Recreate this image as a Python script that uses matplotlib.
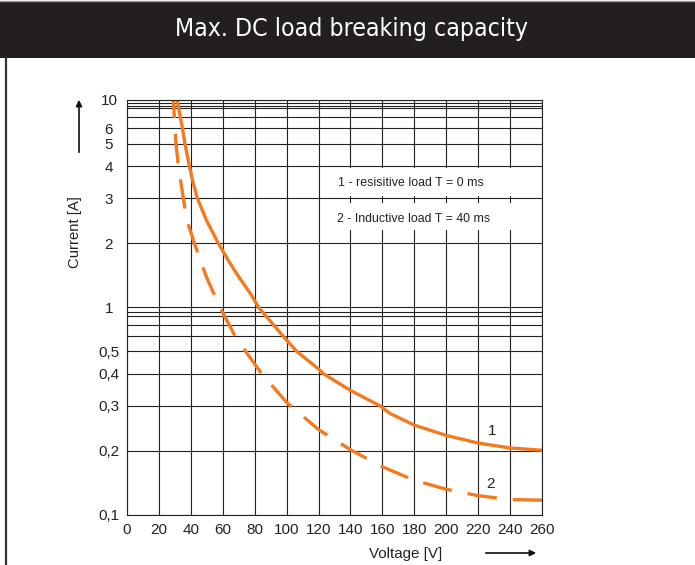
import numpy as np
import matplotlib
matplotlib.use("Agg")
import matplotlib.pyplot as plt
from matplotlib.patches import Rectangle
from matplotlib.lines import Line2D
from matplotlib import font_manager

plt.rcParams['font.family'] = ['Liberation Sans', 'DejaVu Sans']

# --- data ---
volt_ticks = [0, 20, 40, 60, 80, 100, 120, 140, 160, 180, 200, 220, 240, 260]
curr_ticks = [0.1, 0.2, 0.3, 0.4, 0.5, 1, 2, 3, 4, 5, 6, 10]
curr_labels = ["0,1", "0,2", "0,3", "0,4", "0,5", "1", "2", "3", "4", "5", "6", "10"]
curr_minor = [0.6, 0.7, 0.8, 0.9, 7, 8, 8.6, 9.4]

# curve 1 - resistive load
res_v = [31.5, 32.6, 34.7, 36.3, 39.1, 41.1, 44.1, 49.9, 57.2, 63.5, 70.2, 77.5, 82.5,
         97.5, 100, 106.3, 120, 123, 140, 158.5, 164.8, 180, 200, 220, 240, 260]
res_i = [10, 7.76, 6, 5, 4, 3.55, 3, 2.5, 2, 1.73, 1.47, 1.21, 1,
         0.6, 0.57, 0.5, 0.421, 0.4, 0.348, 0.3, 0.283, 0.257, 0.234, 0.217, 0.206, 0.201]
# curve 2 - inductive load
ind_v = [29.0, 30.1, 30.7, 32.2, 35.3, 37.6, 42.2, 49.8, 58.3, 67.5, 74.3, 80, 84.4,
         100, 102.5, 120, 140, 160, 180, 200, 220, 240, 260]
ind_i = [10, 6, 5, 4, 3, 2.5, 2, 1.47, 1, 0.6, 0.5, 0.443, 0.4,
         0.311, 0.3, 0.247, 0.202, 0.175, 0.154, 0.140, 0.130, 0.124, 0.123]

# the printed chart uses a distorted log grid; mantissa -> fraction of a decade
M_KNOTS = [1, 2, 3, 4, 5, 6, 7, 8, 9, 10]
G_KNOTS = [0, 0.31, 0.526, 0.681, 0.789, 0.865, 0.918, 0.96, 0.979, 1.0]


def fwd(v):
    v = np.asarray(v, dtype=float)
    v = np.where(v > 0, v, 1e-3)
    d = np.floor(np.log10(v) + 1e-12)
    m = v / 10.0 ** d
    return d + np.interp(m, M_KNOTS, G_KNOTS)


def inv(y):
    y = np.asarray(y, dtype=float)
    d = np.floor(y + 1e-12)
    m = np.interp(y - d, G_KNOTS, M_KNOTS)
    return m * 10.0 ** d


ORANGE = "#f47a20"
GRID = "#222222"
TXT = "#222222"

fig = plt.figure(figsize=(6.95, 5.65), dpi=100)
ax = fig.add_axes([127 / 695, 1 - 515 / 565, 415 / 695, 415 / 565])
ax.set_yscale("function", functions=(fwd, inv))
ax.set_xlim(0, 260)
ax.set_ylim(0.1, 10)

# grid
for v in volt_ticks:
    ax.axvline(v, color=GRID, lw=0.8, zorder=1)
for c in curr_ticks + curr_minor:
    ax.axhline(c, color=GRID, lw=0.8, zorder=1.2)

# white label boxes interrupting the vertical grid
for y0, y1 in [(0.769, 0.836), (0.687, 0.752)]:
    ax.add_patch(Rectangle((0.47, y0), 0.501, y1 - y0, transform=ax.transAxes,
                           facecolor="white", edgecolor="none", zorder=1.1))
ax.text(0.508, 0.799, "1 - resisitive load T = 0 ms", transform=ax.transAxes,
        fontsize=8.9, ha="left", va="center", color=TXT, zorder=3)
ax.text(0.505, 0.7125, "2 - Inductive load T = 40 ms", transform=ax.transAxes,
        fontsize=8.9, ha="left", va="center", color=TXT, zorder=3)

# curves
ax.plot(res_v, res_i, color=ORANGE, lw=2.4, solid_capstyle="butt",
        solid_joinstyle="round", zorder=2)
ln, = ax.plot(ind_v, ind_i, color=ORANGE, lw=2.4, zorder=2, dash_capstyle="butt")
ln.set_linestyle((3.5, (8.9, 4.8)))
ax.text(228.5, 0.243, "1", fontsize=11, ha="center", va="center", color=TXT)
ax.text(228.0, 0.148, "2", fontsize=11, ha="center", va="center", color=TXT)

# ticks
ax.set_xticks(volt_ticks)
ax.set_xticklabels([str(v) for v in volt_ticks], fontsize=11, color=TXT)
ax.set_yticks(curr_ticks)
ax.set_yticklabels(curr_labels, fontsize=11, color=TXT)
ax.yaxis.set_minor_locator(matplotlib.ticker.NullLocator())
ax.tick_params(axis="both", length=0)
ax.tick_params(axis="x", pad=6)
ax.tick_params(axis="y", pad=13)
for t in ax.get_yticklabels():
    t.set_horizontalalignment("center")
for s in ax.spines.values():
    s.set_color(GRID)
    s.set_linewidth(0.8)

# axis labels with arrows
fig.text(75.5 / 695, 1 - 231.7 / 565, "Current [A]", rotation=90, fontsize=10.7,
         ha="center", va="center", color=TXT)
fig.text(406 / 695, 1 - 554 / 565, "Voltage [V]", fontsize=10.9,
         ha="center", va="center", color=TXT)
ax.annotate("", xy=(79 / 695, 1 - 97 / 565), xytext=(79 / 695, 1 - 155 / 565),
            xycoords="figure fraction",
            arrowprops=dict(arrowstyle="-|>", color="#111111", lw=1.2, mutation_scale=9))
ax.annotate("", xy=(539 / 695, 1 - 553 / 565), xytext=(483 / 695, 1 - 553 / 565),
            xycoords="figure fraction",
            arrowprops=dict(arrowstyle="-|>", color="#111111", lw=1.2, mutation_scale=9))

# title bar and page border
fig.add_artist(Line2D([0, 1], [1 - 0.5 / 565, 1 - 0.5 / 565], transform=fig.transFigure,
                      color="#999999", lw=1))
fig.add_artist(Rectangle((0, 1 - 58 / 565), 1, 56 / 565, transform=fig.transFigure,
                         facecolor="#231f20", edgecolor="none"))
fig.add_artist(Line2D([5.5 / 695, 5.5 / 695], [0, 1 - 58 / 565], transform=fig.transFigure,
                      color="#333333", lw=1.6))

# condensed face for the title if one is installed
narrow = None
for f in font_manager.fontManager.ttflist:
    condensed = ("Narrow" in f.name or "Condensed" in f.name
                 or str(f.stretch) in ("condensed", "semi-condensed", "75", "87"))
    if condensed and f.style == "normal" and f.weight in (400, "normal", "regular"):
        if narrow is None or "Liberation" in f.name:
            narrow = f
tprops = (font_manager.FontProperties(fname=narrow.fname) if narrow
          else font_manager.FontProperties(family="Liberation Sans"))
title = fig.text(351.5 / 695, 1 - 29 / 565, "Max. DC load breaking capacity",
                 fontproperties=tprops, color="white", ha="center", va="center")
title.set_fontsize(21)
fig.canvas.draw()
w = title.get_window_extent().width
title.set_fontsize(21 * 353 / w)

fig.savefig("out.png", dpi=100)
